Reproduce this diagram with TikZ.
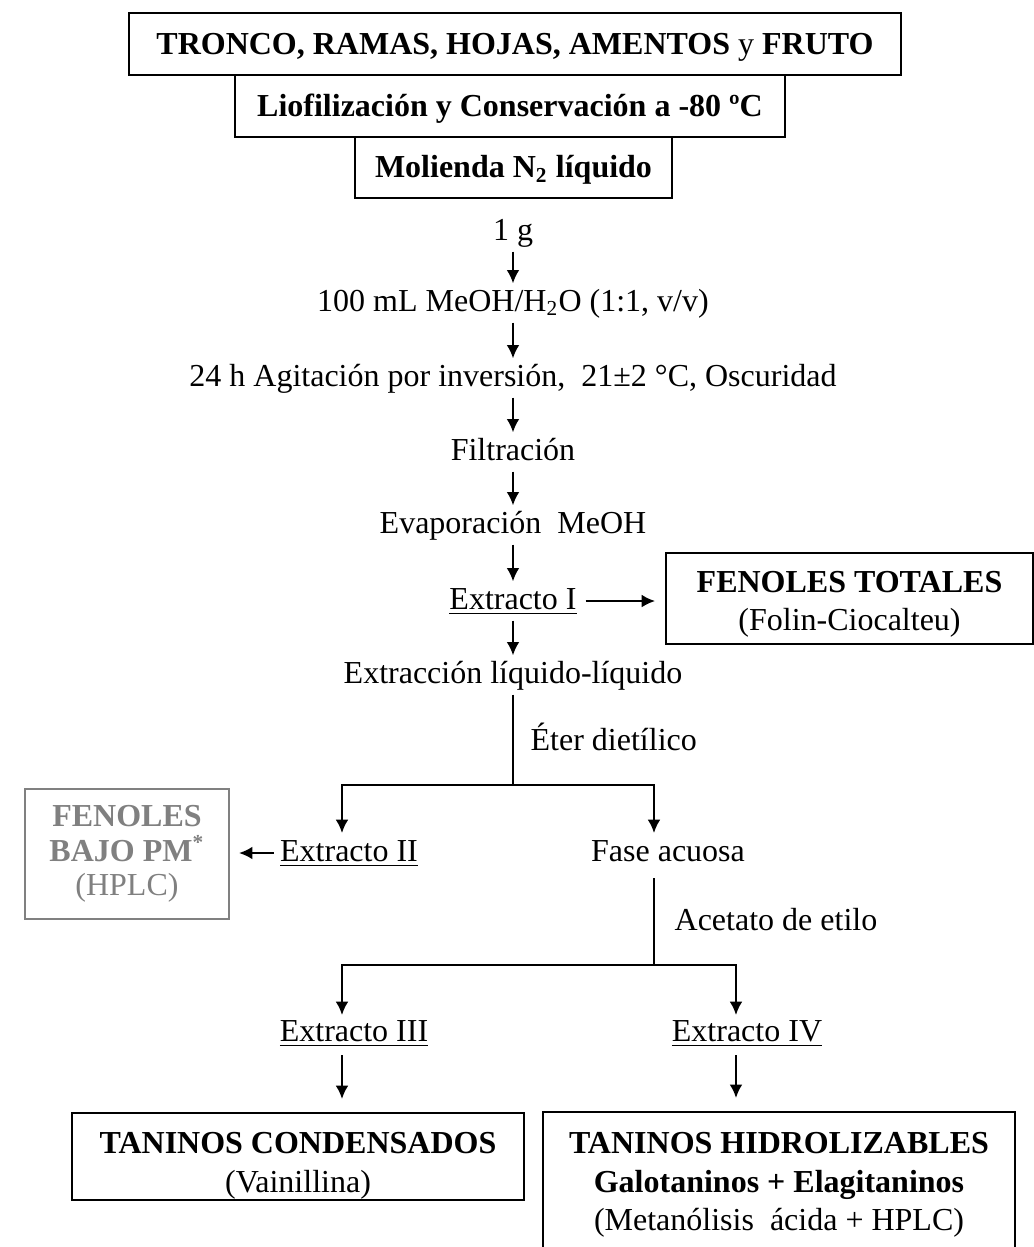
\documentclass[tikz,border=0pt,12pt]{standalone}
\usepackage{fontspec}
\setmainfont{Liberation Serif}
\usetikzlibrary{arrows.meta}
\definecolor{grispm}{RGB}{128,128,128}
\newcommand{\flecha}[2]{\draw[->] (#1) -- (#2)}
\newcommand{\extr}[1]{\underline{Extracto #1}}
\newcommand{\rama}[2]{\draw[->] (#1) -| (#2)}
\newcommand{\baja}[1]{\rule{0pt}{#1pt}}

\begin{document}
\begin{tikzpicture}[x=0.375pt,y=-0.375pt,line width=0.75pt,
	>={Latex[length=5pt,width=4.8pt]},
	paso/.style={text height=9pt,text depth=3pt,inner sep=1pt},
	caja/.style 2 args={draw,align=center,inner sep=0pt,
		minimum width=#1pt,minimum height=#2pt},
	linea/.style={text height=8pt,text depth=0.5pt}]
\useasboundingbox (0,0) rectangle (1034,1247);
%
	\node[caja={289.5}{23.25},linea] (muestra) at (515,44)
		{\textbf{TRONCO, RAMAS, HOJAS, AMENTOS} y \textbf{FRUTO}};
	\node[caja={206.25}{23.25},linea] (liof) at (510,106)
		{\textbf{Liofilización y Conservación a -80 ºC}};
	\node[caja={118.9}{22.9},linea] (molienda) at (513.5,167.5)
		{\textbf{Molienda N\textsubscript{2} líquido}};
%
	\node[paso] (gramo) at (513,232) {1 g};
	\node[paso] (disolv) at (513,303) {100 mL MeOH/H\textsubscript{2}O (1:1, v/v)};
	\node[paso] (agit) at (513,378) {24 h Agitación por inversión,\ \ 21±2 °C, Oscuridad};
	\node[paso] (filtr) at (513,452) {Filtración};
	\node[paso] (evap) at (513,525) {Evaporación\ \ MeOH};
	\node[paso] (ext1) at (513,601) {\extr{I}};
	\node[paso] (extliq) at (513,675) {Extracción líquido-líquido};
	\node[paso,anchor=west] (eter) at (527,742) {Éter dietílico};
%
	\node[caja={137.6}{34.1}] (ftot) at (849.5,598.5)
		{\baja{12.4}\textbf{FENOLES TOTALES}\\(Folin-Ciocalteu)};
%
	\flecha{gramo.south}{disolv.north};
	\flecha{disolv.south}{agit.north};
	\flecha{agit.south}{filtr.north};
	\flecha{filtr.south}{evap.north};
	\flecha{evap.south}{ext1.north};
	\flecha{ext1.south}{extliq.north};
	\draw[->,shorten <=2pt,shorten >=3.75pt] (ext1.east) -- (ext1.east -| ftot.west);
%
	\coordinate (bif1) at (513,785);
	\coordinate (e2n) at (342,833);
	\coordinate (fan) at (654,833);
	\draw (extliq.south) -- (bif1);
	\rama{bif1}{e2n};
	\rama{bif1}{fan};
%
	\node[paso] (ext2) at (349,853) {\extr{II}};
	\node[paso] (fase) at (668,853) {Fase acuosa};
	\node[caja={76.5}{48.75},draw=grispm,text=grispm,
		font=\fontsize{12}{13}\selectfont] (pm) at (127,854)
		{\textbf{FENOLES}\\\textbf{BAJO PM\textsuperscript{*}}\\(HPLC)};
	\draw[->,shorten <=1pt,shorten >=3.4pt] (ext2.west) -- (ext2.west -| pm.east);
%
	\node[paso,anchor=west] (acet) at (671,922) {Acetato de etilo};
	\coordinate (bif2) at (654,965);
	\coordinate (e3n) at (342,1015);
	\coordinate (e4n) at (736,1015);
	\draw[shorten <=2pt] (fase.south -| bif2) -- (bif2);
	\rama{bif2}{e3n};
	\rama{bif2}{e4n};
%
	\node[paso] (ext3) at (354,1033) {\extr{III}};
	\node[paso] (ext4) at (747,1033) {\extr{IV}};
	\node[caja={169.5}{32.6}] (tcond) at (298,1156.5)
		{\baja{15.1}\textbf{TANINOS CONDENSADOS}\\(Vainillina)};
	\node[caja={177}{52.5}] (thidr) at (779,1182)
		{\baja{10.2}\textbf{TANINOS HIDROLIZABLES}\\\textbf{Galotaninos + Elagitaninos}\\(Metanólisis\ \ ácida + HPLC)};
	\draw[->,shorten <=1pt,shorten >=4.9pt] (ext3.south -| e3n) -- (tcond.north -| e3n);
	\draw[->,shorten <=1pt,shorten >=4.9pt] (ext4.south -| e4n) -- (thidr.north -| e4n);
%
\end{tikzpicture}
\end{document}
